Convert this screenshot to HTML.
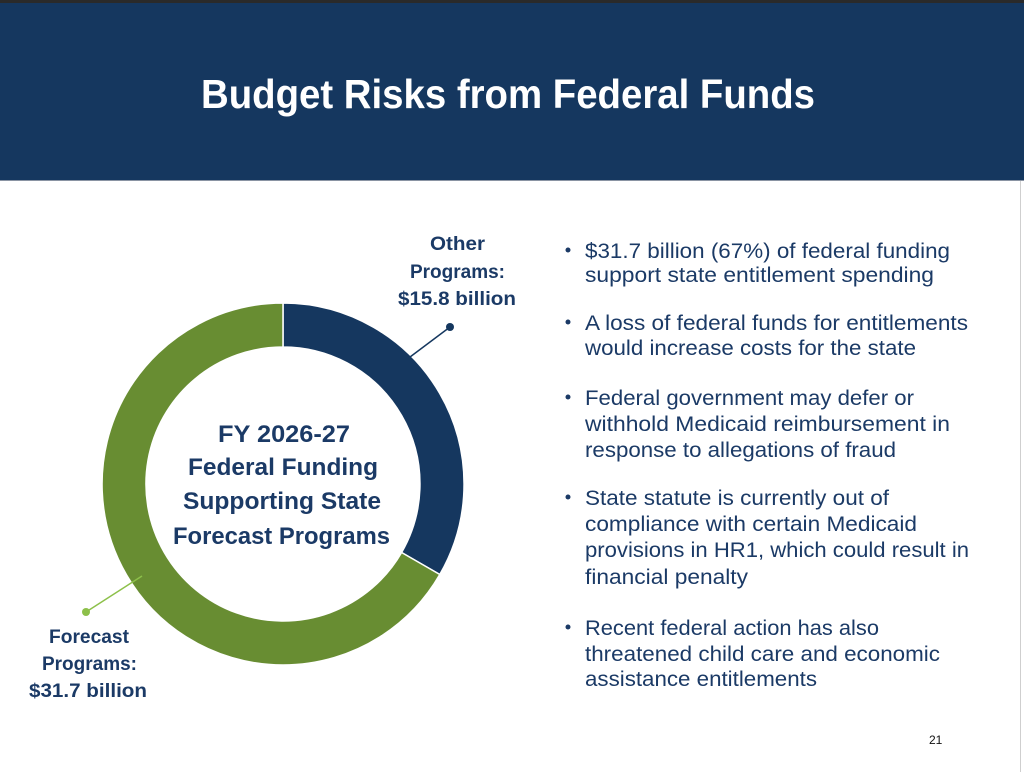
<!DOCTYPE html>
<html><head><meta charset="utf-8"><style>
html,body{margin:0;padding:0;background:#fff;}
svg{display:block;}
text{font-family:"Liberation Sans",sans-serif;}
</style></head><body>
<svg width="1024" height="772" viewBox="0 0 1024 772" xmlns="http://www.w3.org/2000/svg">
<rect x="0" y="0" width="1024" height="772" fill="#fff"/>
<rect x="0" y="0" width="1024" height="3" fill="#2a2a2a"/>
<rect x="0" y="3" width="1024" height="177" fill="#15375f"/>
<rect x="0" y="180" width="1024" height="1" fill="#8a94a3"/>
<rect x="1020" y="181" width="1" height="591" fill="#cfcfcf"/>
<text x="201" y="108" font-size="41" font-weight="bold" fill="#fff" textLength="614" lengthAdjust="spacingAndGlyphs">Budget Risks from Federal Funds</text>

<path d="M283 303 A181 181 0 0 1 439.8 574.5 L401.6 552.5 A137 137 0 0 0 283 347 Z" fill="#15375f" stroke="#fff" stroke-width="1.5"/>
<path d="M439.8 574.5 A181 181 0 1 1 283 303 L283 347 A137 137 0 1 0 401.6 552.5 Z" fill="#688d32" stroke="#fff" stroke-width="1.5"/>

<g fill="#1b3a66" font-weight="bold" font-size="24">
<text x="218" y="442" textLength="132" lengthAdjust="spacingAndGlyphs">FY 2026-27</text>
<text x="188" y="475" textLength="190" lengthAdjust="spacingAndGlyphs">Federal Funding</text>
<text x="183" y="509" textLength="198" lengthAdjust="spacingAndGlyphs">Supporting State</text>
<text x="173" y="544" textLength="217" lengthAdjust="spacingAndGlyphs">Forecast Programs</text>
</g>

<line x1="450" y1="327" x2="410" y2="357" stroke="#15375f" stroke-width="1.5"/>
<circle cx="450" cy="327" r="4" fill="#15375f"/>
<line x1="86" y1="612" x2="142" y2="576" stroke="#8dc04a" stroke-width="1.5"/>
<circle cx="86" cy="612" r="4" fill="#8dc04a"/>

<g fill="#1b3a66" font-weight="bold" font-size="19">
<text x="430" y="250" textLength="55" lengthAdjust="spacingAndGlyphs">Other</text>
<text x="410" y="278" textLength="95" lengthAdjust="spacingAndGlyphs">Programs:</text>
<text x="398" y="305" textLength="118" lengthAdjust="spacingAndGlyphs">$15.8 billion</text>
<text x="49" y="643" textLength="80" lengthAdjust="spacingAndGlyphs">Forecast</text>
<text x="42" y="670" textLength="95" lengthAdjust="spacingAndGlyphs">Programs:</text>
<text x="29" y="697" textLength="118" lengthAdjust="spacingAndGlyphs">$31.7 billion</text>
</g>

<g fill="#1b3a66" font-size="21">
<circle cx="568" cy="250" r="2.5"/><circle cx="568" cy="322" r="2.5"/><circle cx="568" cy="397" r="2.5"/><circle cx="568" cy="497" r="2.5"/><circle cx="568" cy="627" r="2.5"/>
<text x="585" y="258" textLength="365" lengthAdjust="spacingAndGlyphs">$31.7 billion (67%) of federal funding</text>
<text x="585" y="282" textLength="349" lengthAdjust="spacingAndGlyphs">support state entitlement spending</text>
<text x="585" y="330" textLength="383" lengthAdjust="spacingAndGlyphs">A loss of federal funds for entitlements</text>
<text x="585" y="355" textLength="331" lengthAdjust="spacingAndGlyphs">would increase costs for the state</text>
<text x="585" y="405" textLength="329" lengthAdjust="spacingAndGlyphs">Federal government may defer or</text>
<text x="585" y="431" textLength="365" lengthAdjust="spacingAndGlyphs">withhold Medicaid reimbursement in</text>
<text x="585" y="457" textLength="311" lengthAdjust="spacingAndGlyphs">response to allegations of fraud</text>
<text x="585" y="505" textLength="304" lengthAdjust="spacingAndGlyphs">State statute is currently out of</text>
<text x="585" y="531" textLength="332" lengthAdjust="spacingAndGlyphs">compliance with certain Medicaid</text>
<text x="585" y="557" textLength="384" lengthAdjust="spacingAndGlyphs">provisions in HR1, which could result in</text>
<text x="585" y="584" textLength="163" lengthAdjust="spacingAndGlyphs">financial penalty</text>
<text x="585" y="635" textLength="294" lengthAdjust="spacingAndGlyphs">Recent federal action has also</text>
<text x="585" y="661" textLength="355" lengthAdjust="spacingAndGlyphs">threatened child care and economic</text>
<text x="585" y="686" textLength="232" lengthAdjust="spacingAndGlyphs">assistance entitlements</text>
</g>
<text x="929" y="744" font-size="12" fill="#111">21</text>
</svg>
</body></html>
